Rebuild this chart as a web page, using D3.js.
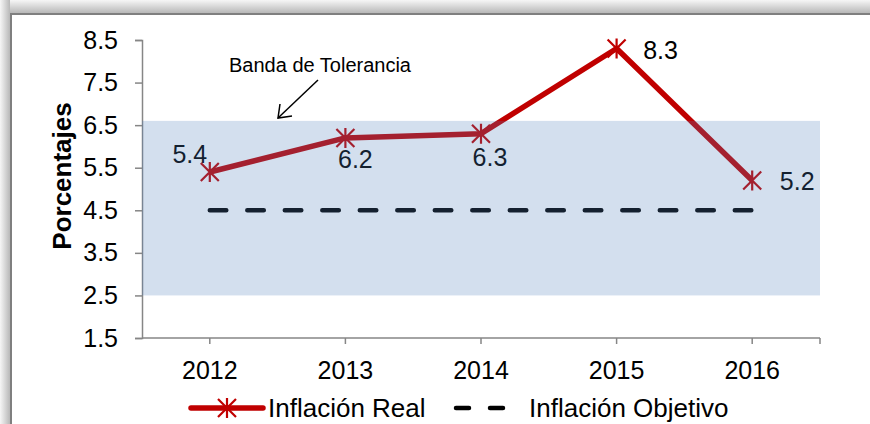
<!DOCTYPE html>
<html lang="es">
  <head>
    <meta charset="utf-8">
    <title>Inflacion</title>
    <style>
      body { margin: 0; background: white; }
      text { font-family: "Liberation Sans", Arial, sans-serif; }
    </style>
  </head>
  <body>
    <svg id="container" width="870" height="424"></svg>
  </body>
  <script src="https://d3js.org/d3.v7.min.js"></script>
  <script>
    // data
    let years = ["2012", "2013", "2014", "2015", "2016"]
    let inflacionReal = [5.4, 6.2, 6.3, 8.3, 5.2]
    let inflacionObjetivo = [4.5, 4.5, 4.5, 4.5, 4.5]
    let banda = [2.5, 6.6]
    let yTicks = [1.5, 2.5, 3.5, 4.5, 5.5, 6.5, 7.5, 8.5]

    let svg = d3.select("#container")

    // frame with shadow on top / left
    let defs = svg.append("defs")
    let gTop = defs.append("linearGradient").attr("id", "shTop").attr("x1", 0).attr("y1", 0).attr("x2", 0).attr("y2", 1)
    gTop.append("stop").attr("offset", "0%").attr("stop-color", "#f6f6f6")
    gTop.append("stop").attr("offset", "100%").attr("stop-color", "#b8b8b8")
    let gLeft = defs.append("linearGradient").attr("id", "shLeft").attr("x1", 0).attr("y1", 0).attr("x2", 1).attr("y2", 0)
    gLeft.append("stop").attr("offset", "0%").attr("stop-color", "#f6f6f6")
    gLeft.append("stop").attr("offset", "100%").attr("stop-color", "#b8b8b8")

    svg.append("rect").attr("x", 0).attr("y", 0).attr("width", 870).attr("height", 13).style("fill", "url(#shTop)")
    svg.append("rect").attr("x", 0).attr("y", 0).attr("width", 10).attr("height", 424).style("fill", "url(#shLeft)")
    svg.append("rect").attr("x", 11).attr("y", 14).attr("width", 900).attr("height", 450)
      .style("fill", "white").style("stroke", "#7f7f7f").style("stroke-width", 2)

    let x = d3.scaleBand().domain(years).range([142, 820])
    let y = d3.scaleLinear().domain([1.5, 8.5]).range([338, 40])
    let cx = d => x(d) + x.bandwidth() / 2

    // y axis
    let yAxis = d3.axisLeft(y).tickValues(yTicks).tickFormat(d3.format(".1f")).tickSize(7).tickPadding(17)
    let gy = svg.append("g").attr("transform", "translate(142,0)").call(yAxis)
    gy.select(".domain").attr("stroke", "#868686").attr("stroke-width", 1.5)
    gy.selectAll(".tick line").attr("stroke", "#868686").attr("stroke-width", 1.5)
    gy.selectAll(".tick text").style("font-size", "25px").attr("fill", "black")

    // x axis, ticks on category centres and at the end
    svg.append("line").attr("x1", 142).attr("x2", 820).attr("y1", y(1.5)).attr("y2", y(1.5))
      .style("stroke", "#868686").style("stroke-width", 1.5)
    svg.selectAll(".xtick").data(years.map(cx).concat([820])).enter()
      .append("line").attr("class", "xtick")
      .attr("x1", d => d).attr("x2", d => d).attr("y1", y(1.5)).attr("y2", y(1.5) + 6)
      .style("stroke", "#868686").style("stroke-width", 1.5)
    svg.selectAll(".xlab").data(years).enter()
      .append("text").attr("class", "xlab")
      .attr("x", d => cx(d)).attr("y", 379).attr("text-anchor", "middle")
      .style("font-size", "25px").text(d => d)

    svg.append("text").attr("transform", "translate(71,176) rotate(-90)")
      .attr("text-anchor", "middle").style("font-size", "26px").style("font-weight", "bold")
      .text("Porcentajes")

    // objetivo dashed
    let line = d3.line().x((d, i) => cx(years[i])).y(d => y(d))
    svg.append("path").datum(inflacionObjetivo).attr("d", line)
      .style("fill", "none").style("stroke", "black").style("stroke-width", 4.5)
      .style("stroke-dasharray", "16.5 21").style("stroke-linecap", "round")

    // real
    svg.append("path").datum(inflacionReal).attr("d", line)
      .style("fill", "none").style("stroke", "#C00000").style("stroke-width", 5.5)
      .style("stroke-linejoin", "round")

    let star = "M-9,-9L9,9M-9,9L9,-9M0,-10L0,10"
    svg.selectAll(".mk").data(inflacionReal).enter()
      .append("path").attr("class", "mk")
      .attr("transform", (d, i) => "translate(" + cx(years[i]) + "," + y(d) + ")")
      .attr("d", star).style("stroke", "#C00000").style("stroke-width", 2.2).style("fill", "none")

    // data labels
    let labelOffsets = [[-20, -9], [10, 30], [9, 32], [44, 10], [45, 10]]
    svg.selectAll(".dl").data(inflacionReal).enter()
      .append("text").attr("class", "dl")
      .attr("x", (d, i) => cx(years[i]) + labelOffsets[i][0])
      .attr("y", (d, i) => y(d) + labelOffsets[i][1])
      .attr("text-anchor", "middle").style("font-size", "25px").attr("fill", "black")
      .text(d => d.toFixed(1))

    // band on top, translucent
    svg.append("rect").attr("x", 142).attr("width", 678)
      .attr("y", y(banda[1])).attr("height", y(banda[0]) - y(banda[1]))
      .style("fill", "#4F81BD").style("opacity", 0.25)

    // annotation
    svg.append("text").attr("x", 320).attr("y", 72).attr("text-anchor", "middle")
      .style("font-size", "20px").text("Banda de Tolerancia")
    svg.append("line").attr("x1", 318).attr("y1", 80).attr("x2", 278).attr("y2", 118)
      .style("stroke", "black").style("stroke-width", 1.5)
    svg.append("path").attr("d", "M280,104L278,118L292,116")
      .style("stroke", "black").style("stroke-width", 1.5).style("fill", "none")

    // legend
    let lg = svg.append("g").attr("transform", "translate(0,408)")
    lg.append("line").attr("x1", 191).attr("x2", 263).style("stroke", "#C00000").style("stroke-width", 5.5)
      .style("stroke-linecap", "round")
    lg.append("path").attr("transform", "translate(227,0)").attr("d", star)
      .style("stroke", "#C00000").style("stroke-width", 2.2)
    lg.append("text").attr("x", 268).attr("y", 9).style("font-size", "26px").text("Inflación Real")
    lg.append("line").attr("x1", 456).attr("x2", 508).style("stroke", "black").style("stroke-width", 4.5)
      .style("stroke-dasharray", "13 21").style("stroke-linecap", "round")
    lg.append("text").attr("x", 529).attr("y", 9).style("font-size", "26px").text("Inflación Objetivo")
  </script>
</html>
